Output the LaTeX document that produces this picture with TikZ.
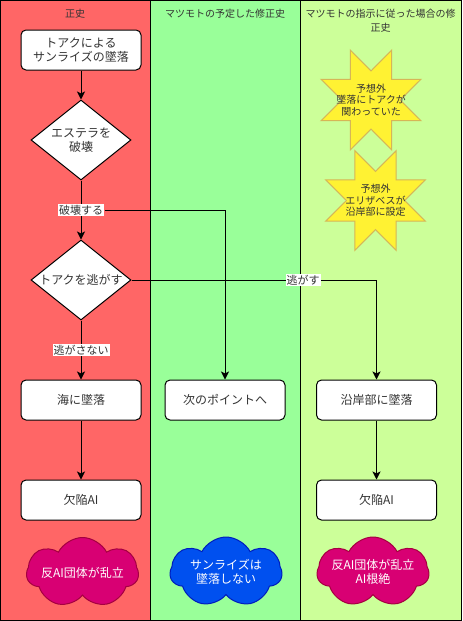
\documentclass[tikz,border=0pt]{standalone}
\usepackage{fontspec}
\setmainfont{Noto Sans CJK JP}
\usepackage{xcolor}
\usetikzlibrary{shapes,arrows.meta,positioning}

\definecolor{laneRed}{HTML}{FF6666}
\definecolor{laneGreen}{HTML}{99FF99}
\definecolor{laneLime}{HTML}{CCFF99}
\definecolor{textGray}{HTML}{333333}
\definecolor{starFill}{HTML}{FFF233}
\definecolor{starLine}{HTML}{D6B656}
\definecolor{cloudPink}{HTML}{D80073}
\definecolor{cloudPinkLine}{HTML}{A50040}
\definecolor{cloudBlue}{HTML}{0050EF}
\definecolor{cloudBlueLine}{HTML}{001DBC}

\begin{document}
\begin{tikzpicture}[x=1pt, y=-1pt,
    lanetitle/.style={font=\fontsize{10}{13.5}\selectfont, text=textGray, align=center},
    procbox/.style={draw, line width=1pt, rounded corners=5pt, fill=white, text=textGray,
        minimum width=120pt, minimum height=40pt, align=center,
        font=\fontsize{12}{14.5}\selectfont},
    decision/.style={draw, line width=1pt, diamond, fill=white, minimum width=100pt,
        minimum height=80pt, inner sep=0pt},
    dectext/.style={text=textGray, align=center, font=\fontsize{12}{14.5}\selectfont},
    surprise/.style={star, star points=8, star point ratio=1.86, shape border rotate=22.5,
        minimum size=108pt, inner sep=0pt, fill=starFill, draw=starLine, line width=1pt},
    startext/.style={text=textGray, align=center, font=\fontsize{10}{11.5}\selectfont},
    outcome/.style={cloud, cloud puffs=7, cloud puff arc=125, cloud ignores aspect,
        minimum width=112pt, minimum height=70pt, inner sep=0pt, line width=1pt},
    outtext/.style={text=white, align=center, font=\fontsize{12}{14.5}\selectfont},
    elabel/.style={fill=white, text=textGray, inner sep=1pt, font=\fontsize{11}{13}\selectfont},
    flow/.style={line width=1pt, -{Stealth[length=8pt, width=8pt, inset=2pt]}}
]
    \useasboundingbox (0, 0) rectangle (463, 621);

    % Lanes
    \fill [laneRed] (0.5, 0.5) rectangle (150, 620);
    \fill [laneGreen] (150, 0.5) rectangle (300, 620);
    \fill [laneLime] (300, 0.5) rectangle (461, 620);
    \draw [line width=1pt] (0.5, 0.5) rectangle (461, 620);
    \draw [line width=1pt] (150, 0.5) -- (150, 620);
    \draw [line width=1pt] (300, 0.5) -- (300, 620);
    \node [lanetitle] (title1) at (75, 14) {正史};
    \node [lanetitle] (title2) at (225, 14) {マツモトの予定した修正史};
    \node [lanetitle] (title3) at (380.5, 20.5) {マツモトの指示に従った場合の修\\正史};

    % Main history
    \node [procbox] (crash) at (81, 50) {トアクによる\\サンライズの墜落};
    \node [decision, label={[dectext]center:エステラを\\破壊}] (estella) at (81, 140) {};
    \node [decision, label={[dectext]center:トアクを逃がす}] (escape) at (81, 280) {};
    \node [procbox] (sea) at (81, 400) {海に墜落};
    \node [procbox] (flawed1) at (81, 500) {欠陥AI};

    % Planned history
    \node [procbox] (next) at (225, 400) {次のポイントへ};

    % Following the instructions
    \node [surprise] (star1) at (371, 100) {};
    \node [startext] (star1text) at (star1) {予想外\\墜落にトアクが\\関わっていた};
    \node [surprise] (star2) at (375.5, 200.5) {};
    \node [startext] (star2text) at (star2) {予想外\\エリザベスが\\沿岸部に設定};
    \node [procbox] (coast) at (376.5, 400) {沿岸部に墜落};
    \node [procbox] (flawed2) at (376.5, 500) {欠陥AI};

    % Outcomes
    \node [outcome, fill=cloudPink, draw=cloudPinkLine,
        label={[outtext]center:反AI団体が乱立}] (riot1) at (82.5, 572.5) {};
    \node [outcome, fill=cloudBlue, draw=cloudBlueLine,
        label={[outtext]center:サンライズは\\墜落しない}] (safe) at (226, 572) {};
    \node [outcome, fill=cloudPink, draw=cloudPinkLine,
        label={[outtext]center:反AI団体が乱立\\AI根絶}] (riot2) at (373, 572) {};

    % Flow
    \draw [flow] (crash) -- (estella);
    \draw [flow] (estella.south) -- node [elabel] (lbreak) {破壊する} (escape.north);
    \draw [flow] (lbreak.east) -| (next.north);
    \draw [flow] (escape.east) -| node [elabel, pos=0.35] (lescape) {逃がす} (coast.north);
    \draw [flow] (escape.south) -- node [elabel] (lstay) {逃がさない} (sea.north);
    \draw [flow] (sea) -- (flawed1);
    \draw [flow] (coast) -- (flawed2);
\end{tikzpicture}
\end{document}
